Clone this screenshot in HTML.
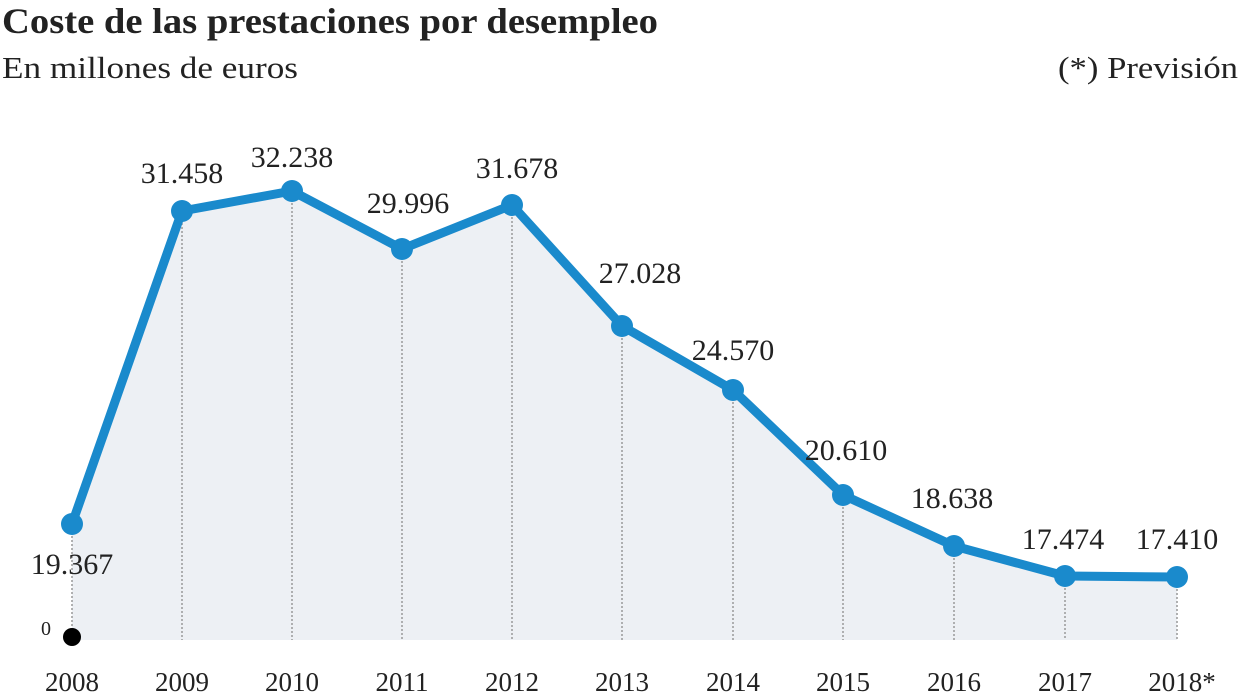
<!DOCTYPE html>
<html><head><style>
body{margin:0;background:#fff;}
svg{display:block}
text{font-family:"Liberation Serif",serif;fill:#222}
</style></head><body>
<svg width="1240" height="698" viewBox="0 0 1240 698">
<text x="2" y="33" font-size="36" font-weight="bold" fill="#1a1a1a" textLength="656" lengthAdjust="spacingAndGlyphs">Coste de las prestaciones por desempleo</text>
<text x="2" y="78" font-size="31" fill="#333" textLength="296" lengthAdjust="spacingAndGlyphs">En millones de euros</text>
<text x="1238" y="78" font-size="31" fill="#333" text-anchor="end" textLength="180" lengthAdjust="spacingAndGlyphs">(*) Previsión</text>
<polygon fill="#edf0f4" points="72,524 182,211 292,191 402,249 512,205 622,326 733,390 843,495 954,546 1065,576 1177,577 1177,640 72,640"/>
<g stroke="#999" stroke-width="1.5" stroke-dasharray="2,2">
<line x1="72" y1="524" x2="72" y2="640"/><line x1="182" y1="211" x2="182" y2="640"/><line x1="292" y1="191" x2="292" y2="640"/><line x1="402" y1="249" x2="402" y2="640"/><line x1="512" y1="205" x2="512" y2="640"/><line x1="622" y1="326" x2="622" y2="640"/><line x1="733" y1="390" x2="733" y2="640"/><line x1="843" y1="495" x2="843" y2="640"/><line x1="954" y1="546" x2="954" y2="640"/><line x1="1065" y1="576" x2="1065" y2="640"/><line x1="1177" y1="577" x2="1177" y2="640"/>
</g>
<polyline fill="none" stroke="#1a8acc" stroke-width="9" stroke-linejoin="round" points="72,524 182,211 292,191 402,249 512,205 622,326 733,390 843,495 954,546 1065,576 1177,577"/>
<g fill="#1a8acc">
<circle cx="72" cy="524" r="11"/><circle cx="182" cy="211" r="11"/><circle cx="292" cy="191" r="11"/><circle cx="402" cy="249" r="11"/><circle cx="512" cy="205" r="11"/><circle cx="622" cy="326" r="11"/><circle cx="733" cy="390" r="11"/><circle cx="843" cy="495" r="11"/><circle cx="954" cy="546" r="11"/><circle cx="1065" cy="576" r="11"/><circle cx="1177" cy="577" r="11"/>
</g>
<circle cx="72" cy="637" r="9" fill="#000"/>
<g font-size="30" text-anchor="middle">
<text x="72" y="574">19.367</text><text x="182" y="183">31.458</text><text x="292" y="167">32.238</text><text x="408" y="213">29.996</text><text x="517" y="178">31.678</text><text x="640" y="283">27.028</text><text x="733" y="360">24.570</text><text x="846" y="460">20.610</text><text x="952" y="508">18.638</text><text x="1063" y="549">17.474</text><text x="1177" y="549">17.410</text>
</g>
<text x="46" y="635" font-size="20" text-anchor="middle">0</text>
<g font-size="27" text-anchor="middle">
<text x="72" y="691">2008</text><text x="182" y="691">2009</text><text x="292" y="691">2010</text><text x="402" y="691">2011</text><text x="512" y="691">2012</text><text x="622" y="691">2013</text><text x="733" y="691">2014</text><text x="843" y="691">2015</text><text x="954" y="691">2016</text><text x="1065" y="691">2017</text><text x="1182" y="691">2018*</text>
</g>
</svg>
</body></html>
